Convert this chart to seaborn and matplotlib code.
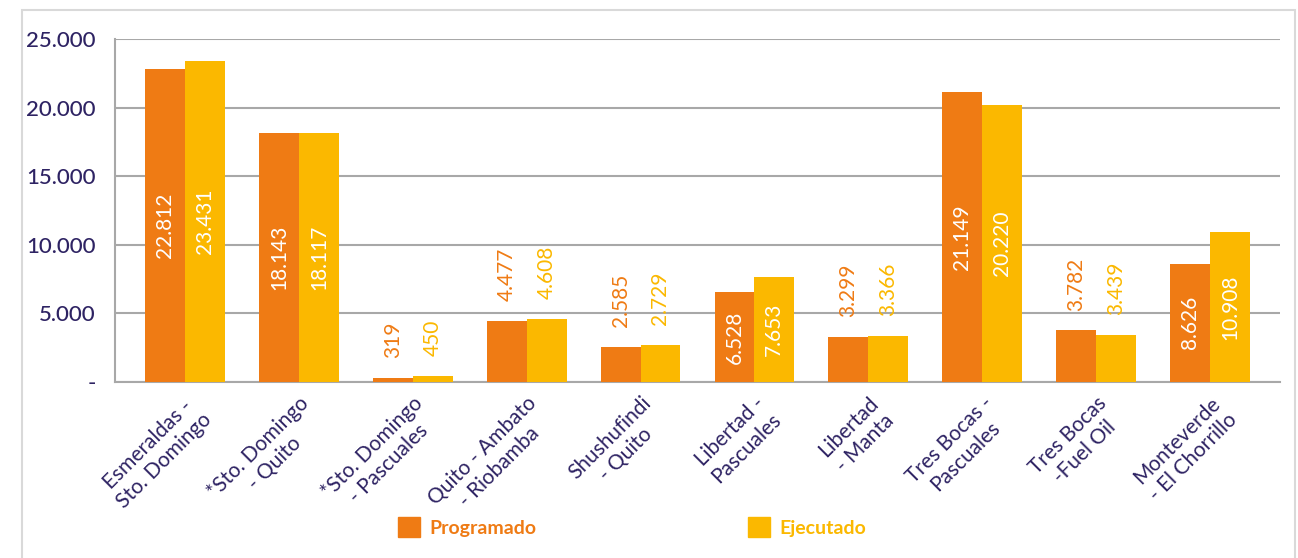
import pandas as pd
import matplotlib.pyplot as plt
import matplotlib.patches as mpatches
import seaborn as sns

# Data
tramos = ["Esmeraldas -\nSto. Domingo", "*Sto. Domingo\n- Quito", "*Sto. Domingo\n- Pascuales",
          "Quito - Ambato\n- Riobamba", "Shushufindi\n- Quito", "Libertad -\nPascuales",
          "Libertad\n- Manta", "Tres Bocas -\nPascuales", "Tres Bocas\n-Fuel Oil",
          "Monteverde\n- El Chorrillo"]
programado = [22812, 18143, 319, 4477, 2585, 6528, 3299, 21149, 3782, 8626]
ejecutado = [23431, 18117, 450, 4608, 2729, 7653, 3366, 20220, 3439, 10908]
series = ["Programado", "Ejecutado"]
colors = ["#EF7B14", "#FBB800"]
yticks = [0, 5000, 10000, 15000, 20000, 25000]

TEXT = "#2E2363"
GRID = "#A8A8A8"

df = pd.DataFrame({
    "tramo": tramos * 2,
    "serie": [series[0]] * len(tramos) + [series[1]] * len(tramos),
    "valor": programado + ejecutado,
})

def fmt(v):
    return "-" if v == 0 else f"{v:,}".replace(",", ".")

sns.set_theme(style="white")
plt.rcParams["font.family"] = ["Lato", "DejaVu Sans"]

fig = plt.figure(figsize=(12.98, 5.58), dpi=100)
ax = fig.add_axes([115 / 1298, 1 - 382 / 558, 1165 / 1298, 343 / 558])

sns.barplot(data=df, x="tramo", y="valor", hue="serie", hue_order=series,
            palette=colors, width=0.7, saturation=1, ax=ax, legend=False,
            linewidth=0, zorder=3)

ax.set_xlim(-0.615, len(tramos) - 1 + 0.615)
ax.set_ylim(0, 25000)
ax.set_yticks(yticks)
ax.set_yticklabels([fmt(v) for v in yticks], color=TEXT, fontsize=16, fontweight="medium")
ax.set_xlabel("")
ax.set_ylabel("")
ax.yaxis.grid(True, color=GRID, linewidth=1.5, zorder=0)
ax.tick_params(axis="y", length=0, pad=14)
for side in ["top", "right"]:
    ax.spines[side].set_visible(False)
for side in ["left", "bottom"]:
    ax.spines[side].set_color(GRID)
    ax.spines[side].set_linewidth(1.5)

ax.set_xticks(range(len(tramos)))
ax.set_xticklabels(tramos, rotation=45, ha="right", rotation_mode="anchor",
                   multialignment="center", color=TEXT, fontsize=15)
ax.tick_params(axis="x", length=0, pad=8)

# value labels
for container, col in zip(ax.containers, colors):
    for bar in container:
        h = bar.get_height()
        xc = bar.get_x() + bar.get_width() / 2
        if h > 5000:
            ax.text(xc, h / 2, fmt(int(round(h))), rotation=90, ha="center", va="center",
                    color="white", fontsize=15, zorder=4)
        else:
            ax.annotate(fmt(int(round(h))), (xc, h), xytext=(0, 14), textcoords="offset points",
                        rotation=90, ha="center", va="bottom", color=col, fontsize=15)

# legend, one entry per box so each sits where the reference puts it
for s, c, xpos in zip(series, colors, [398, 748]):
    leg = fig.legend(handles=[mpatches.Patch(color=c, label=s)], loc="center left",
                     bbox_to_anchor=(xpos / 1298, 1 - 527 / 558), frameon=False,
                     borderpad=0, borderaxespad=0, handlelength=1.15, handleheight=1.15,
                     handletextpad=0.45, prop={"size": 14, "weight": "bold"})
    leg.get_texts()[0].set_color(c)

# light frame around the figure
fig.patches.append(mpatches.Rectangle((22 / 1298, -0.02), 1273 / 1298, 1 - 10 / 558 + 0.02,
                                      transform=fig.transFigure, fill=False,
                                      edgecolor="#D9D9D9", linewidth=1.5))

fig.savefig("out.png", dpi=100)
